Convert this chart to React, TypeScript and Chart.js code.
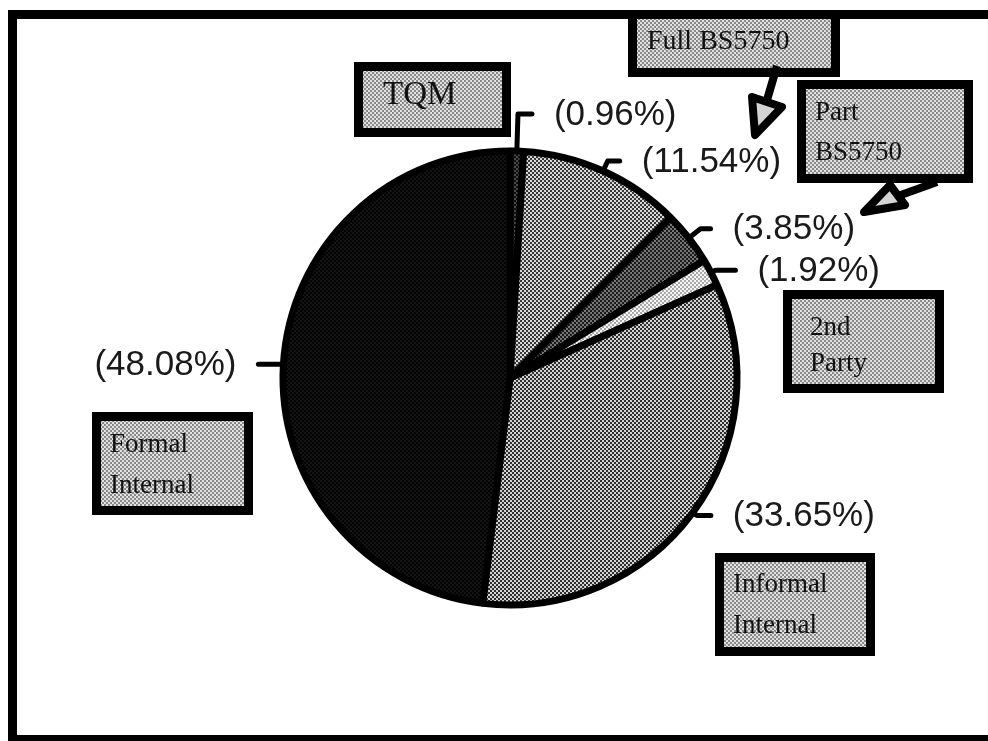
import { useEffect, useRef } from 'react';
import { Chart, registerables } from 'chart.js';

Chart.register(...registerables);

// Quality-assurance approaches, clockwise from 12 o'clock
const categories = ['TQM', 'Full BS5750', 'Part BS5750', '2nd Party', 'Informal Internal', 'Formal Internal'];
const shares = [0.96, 11.54, 3.85, 1.92, 33.65, 48.08];
const percentLabels = shares.map((v) => `(${v.toFixed(2)}%)`);

// Halftone tones per slice: [paper, ink]
const SLICE_TONES: [string, string][] = [
  ['#101010', '#4a4a4a'],
  ['#d8d8d8', '#383838'],
  ['#767676', '#1a1a1a'],
  ['#f6f6f6', '#a8a8a8'],
  ['#d2d2d2', '#303030'],
  ['#030303', '#141414'],
];
const BOX_TONE: [string, string] = ['#e2e2e2', '#888888'];

// Leader lines: radial run out of the rim, then a horizontal run
const LEADER_RADIAL = [36, 10, 14, 4, 4, 0];
const LEADER_RUN = [14, 12, 10, 20, 14, 24];
const LABEL_GAP = 22;

// Name boxes, in category order
const NAME_BOXES = [
  { x: 354, y: 62, w: 157, h: 75, size: 33, tx: 383, baselines: [104], wrap: false },
  { x: 628, y: 10, w: 212, h: 67, size: 28, tx: 647, baselines: [49], wrap: false },
  { x: 797, y: 80, w: 176, h: 103, size: 27, tx: 815, baselines: [120, 160], wrap: true },
  { x: 783, y: 290, w: 161, h: 103, size: 27, tx: 810, baselines: [335, 371], wrap: true },
  { x: 715, y: 553, w: 160, h: 103, size: 27, tx: 733, baselines: [592, 633], wrap: true },
  { x: 92, y: 412, w: 161, h: 103, size: 27, tx: 110, baselines: [452, 493], wrap: true },
];

// Pointer arrows from the BS5750 boxes to their percentages
const ARROWS = [
  { shaft: [777, 66, 767, 100], head: [[752, 97], [782, 107], [755, 135]] },
  { shaft: [937, 182, 898, 196], head: [[890, 185], [905, 205], [864, 212]] },
];

function halftone(tone: [string, string], cell = 2): CanvasPattern | string {
  const tile = document.createElement('canvas');
  tile.width = tile.height = cell * 2;
  const c = tile.getContext('2d');
  if (!c) return tone[0];
  c.fillStyle = tone[0];
  c.fillRect(0, 0, cell * 2, cell * 2);
  c.fillStyle = tone[1];
  c.fillRect(0, 0, cell, cell);
  c.fillRect(cell, cell, cell, cell);
  return c.createPattern(tile, 'repeat') ?? tone[0];
}

export default function App() {
  const ref = useRef<HTMLCanvasElement | null>(null);

  useEffect(() => {
    const canvas = ref.current;
    if (!canvas) return;
    const boxFill = halftone(BOX_TONE);

    const overlay = {
      id: 'overlay',
      afterDatasetsDraw(chart: any) {
        const ctx: CanvasRenderingContext2D = chart.ctx;
        const meta = chart.getDatasetMeta(0);
        ctx.save();

        // leader lines and percentage labels
        meta.data.forEach((el: any, i: number) => {
          const p = el.getProps(['x', 'y', 'startAngle', 'endAngle', 'outerRadius'], true);
          const mid = (p.startAngle + p.endAngle) / 2;
          const cos = Math.cos(mid);
          const sin = Math.sin(mid);
          const r0 = p.outerRadius + 1;
          const x0 = p.x + cos * r0;
          const y0 = p.y + sin * r0;
          const x1 = p.x + cos * (r0 + LEADER_RADIAL[i]);
          const y1 = p.y + sin * (r0 + LEADER_RADIAL[i]);
          const dir = cos >= -0.01 ? 1 : -1;
          const x2 = x1 + dir * LEADER_RUN[i];

          ctx.strokeStyle = '#000';
          ctx.lineWidth = 5;
          ctx.lineCap = 'round';
          ctx.lineJoin = 'round';
          ctx.beginPath();
          ctx.moveTo(x0, y0);
          ctx.lineTo(x1, y1);
          ctx.lineTo(x2, y1);
          ctx.stroke();

          ctx.fillStyle = '#1a1a1a';
          ctx.font = '35px "Liberation Sans", Arial, sans-serif';
          ctx.textBaseline = 'middle';
          ctx.textAlign = dir > 0 ? 'left' : 'right';
          ctx.fillText(percentLabels[i], x2 + dir * LABEL_GAP, y1 + 1);
        });

        // name boxes
        NAME_BOXES.forEach((b, i) => {
          const border = 9;
          ctx.fillStyle = '#000';
          ctx.fillRect(b.x, b.y, b.w, b.h);
          ctx.fillStyle = boxFill as any;
          ctx.fillRect(b.x + border, b.y + border, b.w - border * 2, b.h - border * 2);
          const lines = b.wrap ? categories[i].split(' ') : [categories[i]];
          ctx.fillStyle = '#111';
          ctx.font = `${b.size}px "Liberation Serif", "Times New Roman", serif`;
          ctx.textAlign = 'left';
          ctx.textBaseline = 'alphabetic';
          lines.forEach((line, k) => ctx.fillText(line, b.tx, b.baselines[k]));
        });

        // arrows
        ARROWS.forEach((a) => {
          ctx.strokeStyle = '#000';
          ctx.lineCap = 'butt';
          ctx.lineWidth = 8;
          ctx.beginPath();
          ctx.moveTo(a.shaft[0], a.shaft[1]);
          ctx.lineTo(a.shaft[2], a.shaft[3]);
          ctx.stroke();
          ctx.beginPath();
          ctx.moveTo(a.head[0][0], a.head[0][1]);
          ctx.lineTo(a.head[1][0], a.head[1][1]);
          ctx.lineTo(a.head[2][0], a.head[2][1]);
          ctx.closePath();
          ctx.fillStyle = '#d4d4d4';
          ctx.fill();
          ctx.lineWidth = 8;
          ctx.lineJoin = 'round';
          ctx.stroke();
        });

        // outer frame: left, top and bottom edges (right edge runs off the page)
        ctx.strokeStyle = '#000';
        ctx.lineWidth = 9;
        ctx.lineJoin = 'miter';
        ctx.lineCap = 'butt';
        ctx.beginPath();
        ctx.moveTo(988, 14.5);
        ctx.lineTo(12.5, 14.5);
        ctx.lineTo(12.5, 739.5);
        ctx.lineTo(988, 739.5);
        ctx.stroke();

        ctx.restore();
      },
    };

    const chart = new Chart(canvas, {
      type: 'pie',
      data: {
        labels: categories,
        datasets: [
          {
            data: shares,
            backgroundColor: SLICE_TONES.map((t) => halftone(t)) as any,
            borderColor: '#000',
            borderWidth: 7,
            radius: 227,
          } as any,
        ],
      },
      options: {
        responsive: false,
        devicePixelRatio: 1,
        animation: false,
        layout: { padding: { left: 60, right: 28, top: 40, bottom: 25 } },
        plugins: {
          legend: { display: false },
          tooltip: { enabled: false },
        },
      },
      plugins: [overlay],
    });

    return () => chart.destroy();
  }, []);

  return (
    <div style={{ position: 'fixed', left: 0, top: 0, width: 988, height: 741, background: '#fff', overflow: 'hidden' }}>
      <canvas ref={ref} width={988} height={741} style={{ display: 'block' }} />
    </div>
  );
}
